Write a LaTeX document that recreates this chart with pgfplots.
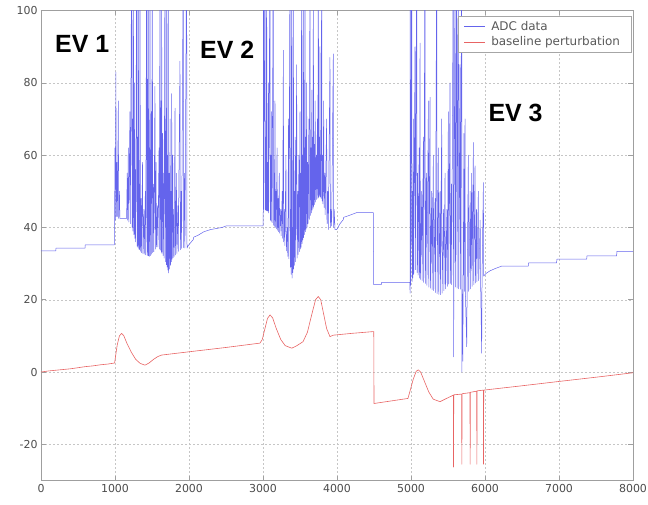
\documentclass[border=0pt]{standalone}
\usepackage{fontspec}
\setmainfont{DejaVu Sans}
\newfontfamily\libsans{Liberation Sans}
\usepackage{pgfplots}
\pgfplotsset{compat=1.18}
\definecolor{adcblue}{RGB}{100,100,236}
\definecolor{basered}{RGB}{232,100,100}
\begin{document}
\begin{tikzpicture}
\begin{axis}[name=ax, scale only axis, width=592bp, height=470bp,
  xmin=0, xmax=8000, ymin=-30, ymax=100,
  xtick={0,1000,...,8000}, ytick={-20,0,20,40,60,80,100},
  grid=major, major grid style={gray!45, dash pattern=on 2bp off 2bp, line width=0.4bp},
  axis line style={gray!75, line width=0.5bp}, tick style={gray!75, line width=0.5bp},
  tick align=inside, major tick length=5bp,
  tick label style={font=\fontsize{11}{12}\selectfont, text=black!70},
  /pgf/number format/assume math mode=true,
  /pgf/number format/set thousands separator={},
  scaled ticks=false,
  legend style={at={(axis description cs:0.9978,0.989)}, anchor=north east, draw=gray!70, fill=white,
    font=\fontsize{12}{13}\selectfont, text=black!65, inner xsep=6bp, inner ysep=2.5bp, row sep=0bp,
    nodes={inner xsep=5.5bp, inner ysep=2.6bp}},
  legend cell align=left,
  legend image code/.code={\draw[#1, line width=0.8bp] (0bp,0bp) -- (21bp,0bp);},
]
\addplot[adcblue, line width=0.5bp, line join=round] coordinates {
(0,33.5)(200,33.5)(203,34.3)(595,34.3)(598,35.2)(990,35.2)
(995,42)(999,62)(1004,42)(1012,83)(1018,43)(1026,58)(1032,43)(1045,75)(1050,42.5)(1060,50)(1066,42.5)(1157,42.5)
(1165,55)(1170,42)(1180,62)(1186,41.5)(1202,72)(1207,41)(1225,120)(1231,40)(1238,70)(1243,39)(1248,120)(1254,38)(1262,80)(1267,37)(1274,56)(1279,36)(1293,120)(1298,34.8)(1305,65)(1310,34.5)(1315,120)(1321,34)(1328,52)(1333,33.8)(1338,120)(1344,33.4)(1352,48)(1357,33)(1372,58)(1377,32.8)(1390,45)(1395,32.6)(1410,50)(1415,32.4)(1428,120)(1433,32.3)(1442,81)(1446,32.2)(1450,120)(1455,32.1)(1463,62)(1467,32)(1473,120)(1478,32.2)(1490,72)(1495,32.6)(1504,120)(1510,33)(1520,52)(1525,33.3)(1540,79)(1545,34)(1555,58)(1560,34.6)(1575,46)(1580,34.6)(1595,62)(1600,34)(1608,120)(1613,33.7)(1622,75)(1627,33.2)(1630,120)(1635,32.8)(1645,66)(1650,32.2)(1660,55)(1664,31.5)(1675,120)(1680,30.5)(1690,70)(1694,29.7)(1698,120)(1703,29)(1712,60)(1716,28.2)(1720,120)(1724,27.4)(1732,55)(1737,28.5)(1745,70)(1750,29.5)(1758,50)(1762,30.5)(1766,77)(1771,31.2)(1780,60)(1785,31.6)(1795,45)(1800,32)(1811,73)(1816,32.4)(1830,55)(1835,32.8)(1850,46)(1855,33.4)(1878,86)(1883,33.8)(1895,50)(1900,34.2)(1923,120)(1928,34.4)(1940,55)(1945,34.3)(1968,120)(1973,34.3)
(1990,35)(2060,36.7)(2063,37.3)(2120,37.8)(2200,38.8)(2290,39.4)(2450,40)(2500,40.4)(3000,40.4)
(3004,45)(3006,120)(3012,45)(3027,120)(3032,44.8)(3038,65)(3043,44.7)(3049,120)(3054,44.6)(3060,58)(3065,44.5)(3072,80)(3077,44)(3094,120)(3099,42)(3105,60)(3110,41.7)(3118,72)(3123,41.3)(3139,120)(3144,40.6)(3150,55)(3155,40.3)(3162,75)(3167,40)(3175,50)(3180,39.6)(3190,62)(3195,39.2)(3205,48)(3210,38.8)(3220,55)(3225,38.4)(3240,45)(3245,37.7)(3260,50)(3265,37)(3275,89)(3280,36)(3290,45)(3295,35)(3310,60)(3315,33.5)(3330,40)(3335,32)(3345,70)(3350,31.3)(3365,120)(3370,29)(3376,45)(3381,27)(3387,120)(3392,26)(3398,40)(3403,27.5)(3410,120)(3415,28.5)(3420,50)(3425,29.5)(3435,65)(3440,30.5)(3455,85)(3460,31.5)(3470,50)(3475,32.5)(3485,60)(3490,33.3)(3500,72)(3505,34)(3511,55)(3516,34.5)(3522,120)(3527,35.5)(3534,60)(3539,36.5)(3545,120)(3550,37.2)(3556,62)(3561,38)(3567,120)(3572,38.8)(3578,65)(3583,39.5)(3590,80)(3595,40)(3603,58)(3608,41)(3620,70)(3625,42.2)(3635,120)(3640,43.3)(3648,62)(3653,44)(3660,78)(3665,44.8)(3672,65)(3677,45.3)(3680,120)(3685,45.8)(3692,63)(3697,46.3)(3705,75)(3710,47)(3720,60)(3725,47.7)(3735,70)(3740,48)(3748,120)(3753,48.3)(3760,65)(3765,48.6)(3770,90)(3775,48.4)(3780,60)(3785,48)(3793,120)(3798,47.3)(3805,60)(3810,46.5)(3820,75)(3825,45.5)(3835,55)(3840,43.5)(3860,70)(3865,41)(3875,50)(3883,39.4)(3905,87)(3910,40)(3918,45)(3928,40.4)(3950,88)(3955,40)(3962,45)(3973,39.4)(3996,39.4)(4040,41)(4086,42.2)(4090,42.8)(4150,43.2)(4266,44.1)(4491,44.1)(4495,24.2)(4600,24.2)(4603,24.8)(4985,24.8)
(4987,21.8)(4989,120)(4995,24)(5009,120)(5014,25)(5020,50)(5026,26)(5032,70)(5037,27)(5054,90)(5059,28.3)(5077,120)(5082,27.5)(5090,55)(5095,26.8)(5110,62)(5115,26)(5122,91)(5127,25.6)(5145,50)(5150,25.3)(5167,65)(5172,24.8)(5189,120)(5194,24.5)(5210,55)(5215,24)(5235,75)(5240,23.5)(5257,76)(5262,23.2)(5280,50)(5285,22.8)(5302,60)(5307,22.5)(5325,48)(5330,22)(5347,120)(5352,21.7)(5370,62)(5375,21.5)(5392,50)(5397,21.4)(5415,70)(5420,21.8)(5440,45)(5445,22.5)(5460,55)(5465,23)(5485,45)(5490,23.7)(5505,72)(5510,24.3)(5527,80)(5532,24.5)(5545,52)(5550,24.2)(5572,120)(5575,4.2)(5580,23.9)(5595,120)(5600,23.5)(5617,120)(5622,23.2)(5640,120)(5645,23)(5662,85)(5667,22.9)(5685,120)(5688,0)(5692,22.8)(5700,3)(5705,22.6)(5715,66)(5720,22.3)(5730,70)(5735,22)(5753,7)(5758,21.8)(5775,60)(5780,22.3)(5800,50)(5805,23)(5820,55)(5825,23.7)(5843,63.5)(5848,24.2)(5865,57)(5870,24.6)(5885,45)(5890,25)(5910,50)(5915,25.3)(5935,42)(5940,25.6)(5955,5.2)(5960,26)(5978,52.4)(5983,26.5)
(6000,27)(6023,27.4)(6068,28.0)(6135,28.6)(6225,29.3)(6585,29.3)(6588,30.2)(6968,30.2)(6971,31.2)(7374,31.2)(7377,32.1)(7779,32.1)(7782,33.4)(8000,33.4)
};
\addlegendentry{ADC data}
\addplot[basered, line width=0.6bp, line join=round] coordinates {
(0,0)(100,0.3)(200,0.5)(300,0.7)(400,0.9)(500,1.2)(600,1.5)(700,1.7)(800,2)(900,2.2)(995,2.5)(1005,4)(1030,7.5)(1060,10)(1090,10.7)(1120,10)(1160,8)(1220,5.5)(1280,3.5)(1340,2.4)(1405,1.9)(1460,2.5)(1520,3.5)(1580,4.3)(1631,4.7)(2000,5.6)(2500,6.8)(2959,8.0)(2990,9)(3020,11.5)(3060,14.8)(3095,15.8)(3130,15)(3180,12)(3240,9)(3300,7.3)(3388,6.6)(3450,7.2)(3541,8.4)(3600,11)(3660,16)(3710,20)(3747,20.9)(3780,20)(3820,16)(3860,12)(3905,9.8)(3950,10.2)(4200,10.7)(4497,11.2)(4500,-8.7)(4959,-7.3)(4990,-5)(5030,-2)(5070,0.2)(5099,0.6)(5130,0)(5180,-2.5)(5240,-5.5)(5300,-7.5)(5392,-8.2)(5480,-7.3)(5572,-6.4)
(5574,-26.3)(5578,-6.3)(5685,-6.1)(5687,-25.5)(5691,-6)(5797,-5.7)(5799,-25.5)(5803,-5.6)(5888,-5.3)(5890,-25.5)(5894,-5.2)(5977,-5.0)(5979,-25.5)(5983,-5.0)(6500,-3.8)(7000,-2.6)(7554,-1.3)(8000,-0.2)
};
\addlegendentry{baseline perturbation}
\node[anchor=base west, inner sep=0pt, font=\libsans\bfseries\fontsize{25}{25}\selectfont] at (axis cs:189,88.3) {EV 1};
\node[anchor=base west, inner sep=0pt, font=\libsans\bfseries\fontsize{25}{25}\selectfont] at (axis cs:2149,86.7) {EV 2};
\node[anchor=base west, inner sep=0pt, font=\libsans\bfseries\fontsize{25}{25}\selectfont] at (axis cs:6045,69.2) {EV 3};
\end{axis}
\pgfresetboundingbox
\useasboundingbox ([xshift=-41bp,yshift=-23.5bp]ax.south west) rectangle ([xshift=15bp,yshift=10.5bp]ax.north east);
\end{tikzpicture}
\end{document}
